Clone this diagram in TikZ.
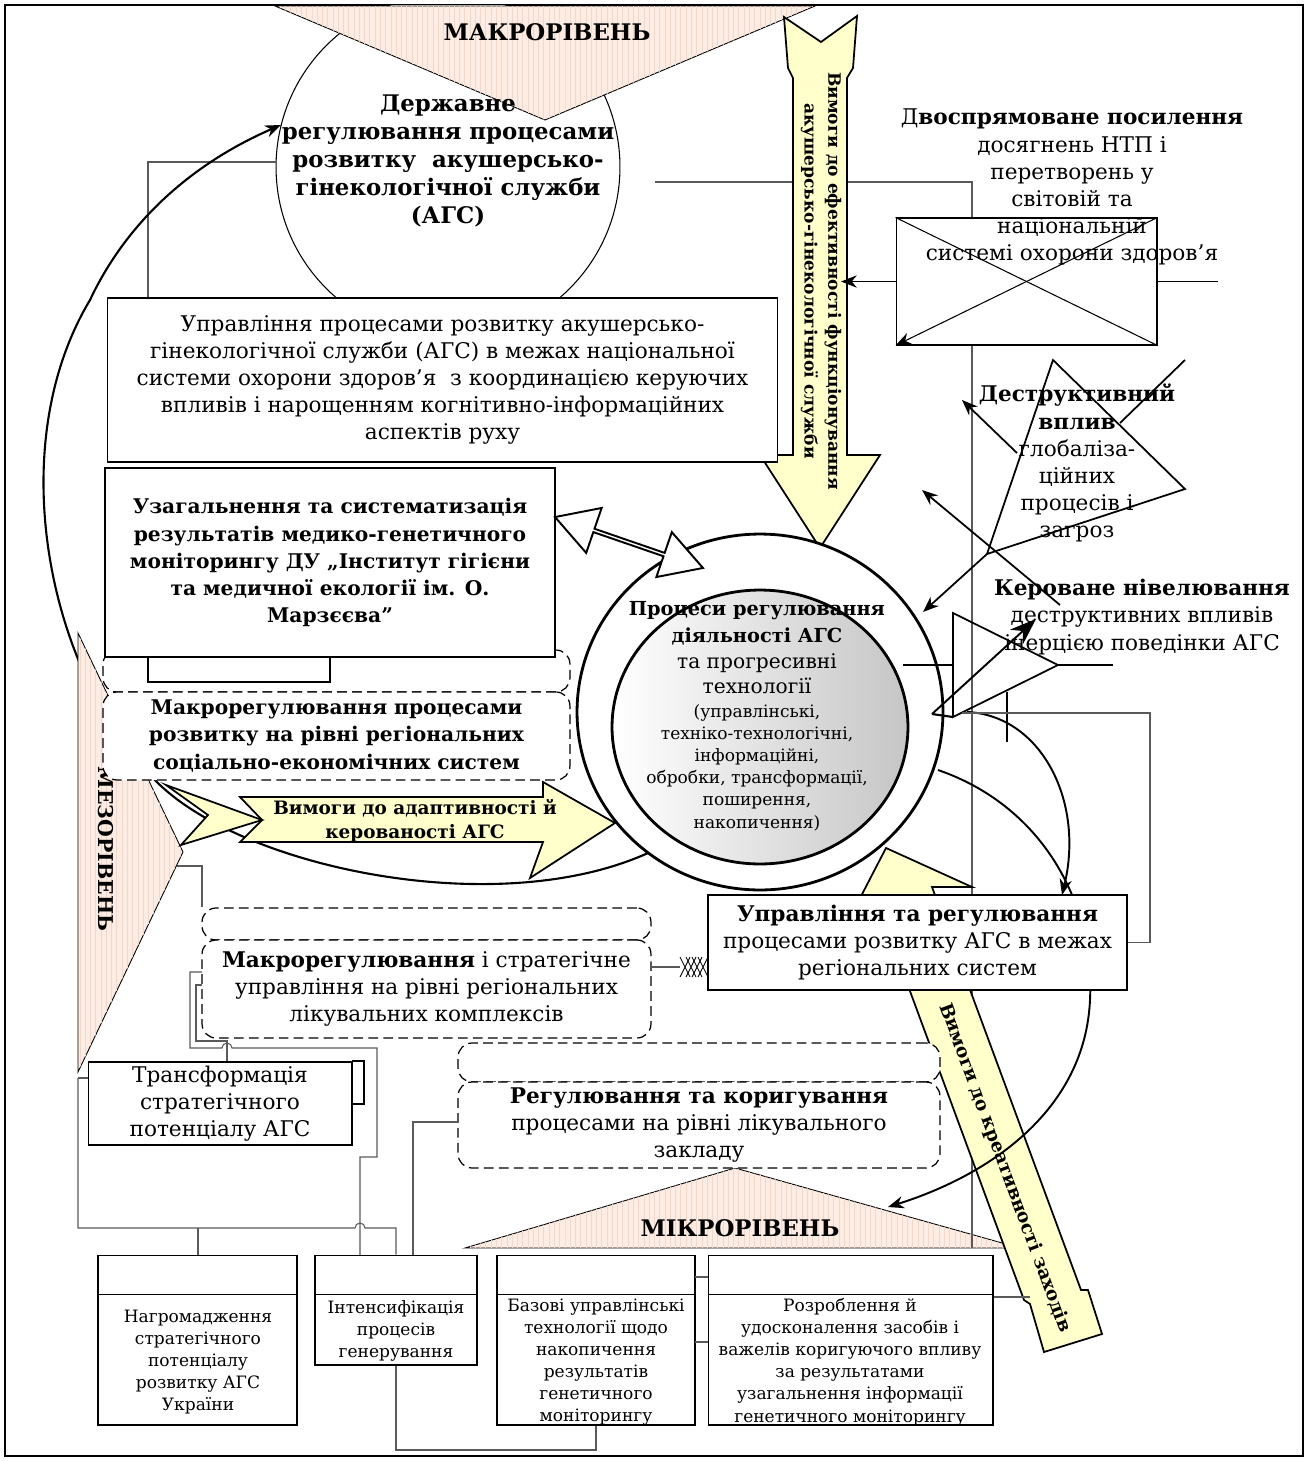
\documentclass[tikz,border=0pt]{standalone}
\usepackage{fontspec}
\setmainfont{DejaVu Serif}
\usetikzlibrary{arrows.meta,positioning,shapes.geometric,shapes.arrows,patterns,calc}

\definecolor{levelfill}{RGB}{252,236,227}
\definecolor{levelstripe}{RGB}{240,216,202}
\definecolor{reqfill}{RGB}{255,255,204}
\definecolor{wiregray}{RGB}{90,90,90}

\newcommand{\regfont}{\fontsize{12.3}{15.4}\selectfont}
\newcommand{\boxbold}{\fontsize{11.5}{15.4}\selectfont\bfseries}
\newcommand{\circbold}{\fontsize{13}{15.9}\selectfont\bfseries}
\newcommand{\mesobold}{\fontsize{11.6}{14}\selectfont\bfseries}
\newcommand{\smallfont}{\fontsize{9.7}{12.6}\selectfont}
\newcommand{\reqfont}{\fontsize{10.5}{13.5}\selectfont\bfseries}
\newcommand{\effreqfont}{\fontsize{9.7}{13.5}\selectfont\bfseries}
\newcommand{\procbold}{\fontsize{11}{12.6}\selectfont\bfseries}
\newcommand{\procreg}{\fontsize{11.5}{12.6}\selectfont}

\begin{document}
\begin{tikzpicture}[x=0.02cm, y=-0.02cm, font=\regfont,
    tierband/.style={draw, line width=0.5pt, fill=levelfill,
      postaction={pattern=vertical lines, pattern color=levelstripe}},
    demand/.style={draw, line width=1pt, fill=reqfill, line join=miter},
    block/.style={draw, line width=1.2pt, fill=white, align=center,
      inner sep=0pt},
    thinbox/.style={draw, line width=0.6pt, fill=white, align=center,
      inner sep=0pt},
    dashframe/.style={draw, line width=0.7pt, dash pattern=on 5.5pt off 3pt,
      rounded corners=8pt, fill=white, align=center, inner sep=0pt},
    wire/.style={draw=wiregray, line width=0.6pt},
    bold line/.style={line width=1pt},
    flow/.style={line width=1pt, -{Stealth[length=9pt, width=7pt]}}
  ]
  \useasboundingbox (0,0) rectangle (1308,1461);
  \draw[line width=1.2pt] (5,5) rectangle (1303,1456);

  % micro level band
  \path[tierband] (465,1248) -- (735,1168) -- (1020,1248) -- cycle;
  \node[font=\circbold] (microlabel) at (740,1228) {МІКРОРІВЕНЬ};

  % state level circle
  \begin{scope}
    \clip (5,5) rectangle (1303,1456);
    \node[circle, draw, line width=0.6pt, fill=white, minimum size=6.88cm,
      inner sep=0pt] (dstate) at (448,167) {};
  \end{scope}

  % thin links in the back
  \coordinate (dwire) at (655,182);
  \coordinate (dwireend) at (972,1248);
  \draw[wire] (dwire) -- (972,182) -- (dwireend);
  \coordinate (natwire) at (148,298);
  \draw[wire] (natwire) -- (148,162) -- (276,162);

  % macro level band
  \path[tierband] (275,6) -- (815,6) -- (545,120) -- cycle;
  \node[font=\circbold] (macrolabel) at (547,32) {МАКРОРІВЕНЬ};
  \node[font=\circbold, align=center] (dstatetext) at (448,161)
    {Державне\\регулювання процесами\\розвитку\ \ акушерсько-\\гінекологічної служби\\(АГС)};

  % efficiency requirement arrow
  \draw[demand] (784,17) -- (821,42) -- (857,16) -- (853,68) -- (847,78)
    -- (847,455) -- (880,455) -- (820,548) -- (760,455) -- (793,455)
    -- (793,78) -- (788,68) -- cycle;
  \node[font=\effreqfont, rotate=-90, align=center] (effreq) at (821,281)
    {Вимоги до ефективності функціонування\\акушерсько-гінекологічної служби};

  % national box
  \node[thinbox, minimum width=13.42cm, minimum height=3.28cm] (natbox)
    at (442.5,380) {Управління процесами розвитку акушерсько-\\гінекологічної служби (АГС) в межах національної\\системи охорони здоров'я\ \ з координацією керуючих\\впливів і нарощенням когнітивно-інформаційних\\аспектів руху};

  % global progress block
  \node[thinbox, minimum width=5.22cm, minimum height=2.54cm] (ntpbox)
    at (1026.5,281.5) {};
  \draw[line width=0.6pt] (ntpbox.north west) -- (ntpbox.south east);
  \draw[flow, line width=0.6pt] (ntpbox.north east) -- (ntpbox.south west);
  \coordinate (effhit) at (841,281.5);
  \coordinate (ntpout) at (1218,281.5);
  \draw[flow, line width=0.6pt] (ntpbox.west) -- (effhit);
  \draw[line width=0.6pt] (ntpbox.east) -- (ntpout);
  \node[align=center] (ntptext) at (1072,187)
    {Д\textbf{воспрямоване посилення}\\досягнень НТП і\\перетворень у\\світовій та\\національній\\системі охорони здоров'я};

  % destructive influence
  \coordinate (dtop) at (1053,360);
  \coordinate (dright) at (1185,489);
  \coordinate (dleft) at (987,554);
  \draw[bold line] (dtop) -- (dright) -- (dleft) -- cycle;
  \node[align=center] (destext) at (1077,463)
    {\textbf{Деструктивний}\\\textbf{вплив}\\глобаліза-\\ційних\\процесів і\\загроз};
  \coordinate (dlinetop) at (1185,360);
  \coordinate (dlinemid) at (1120,423);
  \coordinate (dhit) at (923,612);
  \draw[bold line] (dlinetop) -- (dlinemid);
  \draw[flow] (dleft) -- (dhit);
  \coordinate (afrom) at (1017,453);
  \coordinate (ato) at (962,400);
  \draw[flow] (afrom) -- (ato);
  \coordinate (bfrom) at (1060,605);
  \coordinate (bto) at (922,490);
  \draw[flow] (bfrom) -- (bto);

  % feedback loop to the state level
  \coordinate (loopstart) at (648,853);
  \draw[line width=1.2pt, -{Stealth[length=9pt, width=7pt]}] (loopstart)
    .. controls (500,920) and (250,870) .. (160,785)
    .. controls (50,680) and (0,450) .. (90,300)
    .. controls (130,215) and (200,160) .. (281,125);

  % meso level band
  \path[tierband] (78,633) -- (183,852) -- (78,1072) -- cycle;
  \node[font=\mesobold, rotate=-90] (mesolabel) at (106,849) {МЕЗОРІВЕНЬ};

  % adaptivity requirement arrow
  \draw[demand] (240,797) -- (543,797) -- (543,782) -- (615,823)
    -- (530,878) -- (543,842) -- (240,842) -- (262,820) -- cycle;
  \draw[demand] (166,785) -- (262,820) -- (181,845) -- (208,815) -- cycle;
  \node[font=\reqfont, align=center] (adaptreq) at (415,821)
    {Вимоги до адаптивності й\\керованості АГС};

  % regional socio-economic level
  \node[dashframe, minimum width=9.34cm, minimum height=0.84cm] (socio0)
    at (336.5,671) {};
  \node[thinbox, minimum width=3.64cm, minimum height=0.5cm] (genshadow)
    at (239,669.5) {};
  \node[block, minimum width=9cm, minimum height=3.78cm, font=\boxbold]
    (genbox) at (330,562.5)
    {Узагальнення та систематизація\\результатів медико-генетичного\\моніторингу ДУ „Інститут гігієни\\та медичної екології ім. О.\\Марзєєва”};
  \node[dashframe, minimum width=9.34cm, minimum height=1.76cm, font=\boxbold]
    (socio) at (336.5,736)
    {Макрорегулювання процесами\\розвитку на рівні регіональних\\соціально-економічних систем};

  % creativity requirement arrow
  \draw[demand] (886,848) -- (972,887) -- (932,887) -- (1081,1290)
    -- (1088,1290) -- (1102,1334) -- (1044,1352) -- (1030,1304)
    -- (1024,1300) -- (876,899) -- (858,902) -- cycle;
  \node[font=\reqfont, rotate=-69.7] (creatreq) at (1005,1168)
    {Вимоги до креативності заходів};

  % clinical and facility levels
  \node[dashframe, minimum width=8.98cm, minimum height=0.64cm] (clinic0)
    at (426.5,924) {};
  \node[dashframe, minimum width=8.98cm, minimum height=1.96cm] (clinic)
    at (426.5,989)
    {\textbf{Макрорегулювання} і стратегічне\\управління на рівні регіональних\\лікувальних комплексів};
  \node[dashframe, minimum width=9.64cm, minimum height=0.78cm] (facility0)
    at (699,1062.5) {};
  \node[dashframe, minimum width=9.64cm, minimum height=1.72cm] (facility)
    at (699,1125)
    {\textbf{Регулювання та коригування}\\процесами на рівні лікувального\\закладу};

  % curves around the regional box
  \coordinate (c1start) at (967,712);
  \coordinate (c1end) at (1062,895);
  \draw[flow, line width=1.1pt] (c1start) .. controls (1040,715) and (1085,800) .. (c1end);
  \coordinate (c2start) at (938,770);
  \coordinate (c2end) at (888,1207);
  \draw[flow, line width=1.1pt] (c2start) .. controls (1040,805) and (1095,900) .. (1090,1000)
    .. controls (1085,1110) and (990,1175) .. (c2end);

  % central process circle
  \node[ellipse, draw, line width=1.6pt, fill=white, minimum width=7.32cm,
    minimum height=7.12cm, inner sep=0pt] (procouter) at (760,712) {};
  \node[ellipse, draw, line width=1.6pt, left color=white, right color=gray!45,
    minimum width=5.92cm, minimum height=5.48cm, inner sep=0pt] (procinner)
    at (760,727) {};
  \node[align=center, font=\smallfont] (proctext) at (757,716)
    {{\procbold Процеси регулювання}\\[2.6pt]
     {\procbold діяльності АГС}\\[2.6pt]
     {\procreg та прогресивні}\\[1.6pt]
     {\procreg технології}\\[0.8pt]
     (управлінські,\\техніко-технологічні,\\інформаційні,\\обробки, трансформації,\\поширення,\\накопичення)};

  % exchange with the monitoring institute
  \node[double arrow, draw, line width=1.1pt, fill=white, minimum height=3.13cm,
    minimum width=0.95cm, double arrow head extend=0.24cm,
    double arrow tip angle=60, inner sep=0pt, rotate=-19] (linkarrow)
    at (629,542.5) {};

  % regional management box
  \node[block, minimum width=8.38cm, minimum height=1.9cm] (regbox)
    at (917.5,942.5)
    {\textbf{Управління та регулювання}\\процесами розвитку АГС в межах\\регіональних систем};

  % controlled levelling
  \coordinate (ktop) at (953,613);
  \coordinate (ktip) at (1058,665);
  \coordinate (kbot) at (953,717);
  \draw[bold line] (ktop) -- (ktip) -- (kbot) -- cycle;
  \coordinate (kin) at (903,665);
  \coordinate (kout) at (1113,665);
  \draw[line width=1.2pt] (kin) -- (953,665);
  \draw[line width=1.2pt] (ktip) -- (kout);
  \coordinate (kfoot) at (932,714);
  \draw[line width=1.2pt] (kfoot) -- (kbot);
  \coordinate (khead) at (1036,619);
  \draw[line width=1.1pt, -{Stealth[length=15pt, width=11pt]}] (kfoot) -- (khead);
  \draw[line width=0.6pt] (1007,692) -- (1007,742);
  \coordinate (kwire) at (962,713);
  \draw[wire] (kwire) -- (1150,713) |- (regbox.east);
  \node[align=center] (kertext) at (1142,617)
    {\textbf{Кероване нівелювання}\\деструктивних впливів\\інерцією поведінки АГС};

  % cross-hatched link
  \coordinate (hatchstart) at (651,967);
  \draw[wire] (hatchstart) -- (680,967);
  \foreach \d in {0,6,...,18}
    \draw[line width=0.5pt] (680+\d,957) -- (690+\d,977) (680+\d,977) -- (690+\d,957);

  % strategic potential blocks
  \draw[line width=0.6pt] (352,1061) -- (364,1061) -- (364,1104) -- (352,1104);
  \node[thinbox, minimum width=5.28cm, minimum height=1.66cm] (transbox)
    at (220,1103.5) {Трансформація\\стратегічного\\потенціалу АГС};

  \node[thinbox, minimum width=3.98cm, minimum height=3.4cm] (accbox)
    at (197.5,1340) {};
  \draw[line width=0.6pt] ($(accbox.north west)+(0,40)$) -- ($(accbox.north east)+(0,40)$);
  \node[font=\smallfont, align=center] (acctext) at (198,1362)
    {Нагромадження\\стратегічного\\потенціалу\\розвитку АГС\\України};

  \node[thinbox, minimum width=3.24cm, minimum height=2.2cm] (intbox)
    at (396,1310) {};
  \draw[line width=0.6pt] ($(intbox.north west)+(0,40)$) -- ($(intbox.north east)+(0,40)$);
  \node[font=\smallfont, align=center] (inttext) at (396,1331)
    {Інтенсифікація\\процесів\\генерування};

  \node[thinbox, minimum width=3.96cm, minimum height=3.4cm] (basebox)
    at (596,1340) {};
  \draw[line width=0.6pt] ($(basebox.north west)+(0,40)$) -- ($(basebox.north east)+(0,40)$);
  \node[font=\smallfont, align=center] (basetext) at (596,1362)
    {Базові управлінські\\технології щодо\\накопичення\\результатів\\генетичного\\моніторингу};

  \node[thinbox, minimum width=5.7cm, minimum height=3.4cm] (devbox)
    at (850.5,1340) {};
  \draw[line width=0.6pt] ($(devbox.north west)+(0,40)$) -- ($(devbox.north east)+(0,40)$);
  \node[font=\smallfont, align=center] (devtext) at (850,1362)
    {Розроблення й\\удосконалення засобів і\\важелів коригуючого впливу\\за результатами\\узагальнення інформації\\генетичного моніторингу};

  % thin links at the bottom
  \coordinate (mesofoot) at (78,1078);
  \coordinate (mesotip) at (177,866);
  \draw[wire] (mesotip) -- (202,866) -- (clinic0.north west -| 202,908);
  \draw[wire] (202,972) -- (190,972) -- (190,1048) -- (222,1048)
    arc[start angle=180, end angle=360, radius=5] -- (377,1048) -- (377,1157)
    -- (360,1157) -- (360,1255);
  \draw[wire] (202,985) -- (196,985) -- (196,1041) -- (227,1041) -- (transbox.north -| 227,0);
  \draw[wire] (mesofoot) -- (transbox.west |- mesofoot);
  \draw[wire] (mesofoot) -- (78,1228) -- (355,1228)
    arc[start angle=180, end angle=360, radius=5] -- (396,1228) -- (intbox.north);
  \draw[wire] (198,1228) -- (accbox.north -| 198,0);
  \draw[wire] (facility.west |- 0,1122) -- (413,1122) -- (intbox.north -| 413,0);
  \draw[wire] (intbox.south) -- (396,1450) -- (596,1450) -- (basebox.south);
  \draw[wire] (695,1277) -- (708,1277);
  \draw[wire] (695,1342) -- (708,1342);
  \coordinate (devout) at (1030,1297);
  \draw[wire] (devbox.east |- devout) -- (devout);
\end{tikzpicture}
\end{document}
